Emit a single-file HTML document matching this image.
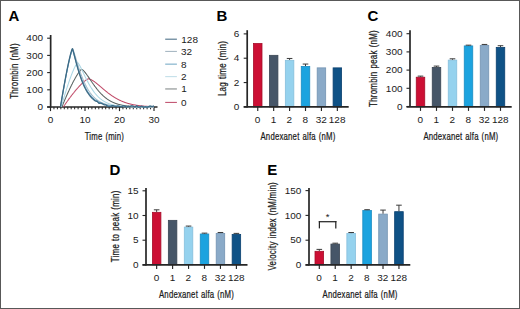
<!DOCTYPE html>
<html><head><meta charset="utf-8"><style>
html,body{margin:0;padding:0;background:#fff;}
#fig{position:relative;width:520px;height:309px;overflow:hidden;background:#fff;}
#fig svg{position:absolute;left:0;top:0;}
#frame{position:absolute;left:0;top:0;width:518px;height:307px;border:1px solid #585858;border-right-width:1px;border-bottom-width:1px;}
text{font-family:"Liberation Sans", sans-serif;}
</style></head><body>
<div id="fig">
<svg width="520" height="309" viewBox="0 0 520 309">
<text transform="translate(8.60,21.20)" font-size="15" text-anchor="start" font-weight="bold" fill="#000">A</text>
<line x1="50.65" y1="35.00" x2="50.65" y2="107.60" stroke="#262626" stroke-width="1.7"/>
<line x1="47.15" y1="107.00" x2="50.65" y2="107.00" stroke="#262626" stroke-width="1.1"/>
<text transform="translate(43.00,110.25) scale(1.05,1)" font-size="9.5" text-anchor="end" font-weight="normal" fill="#1a1a1a">0</text>
<line x1="47.15" y1="89.80" x2="50.65" y2="89.80" stroke="#262626" stroke-width="1.1"/>
<text transform="translate(43.00,93.05) scale(1.05,1)" font-size="9.5" text-anchor="end" font-weight="normal" fill="#1a1a1a">100</text>
<line x1="47.15" y1="72.60" x2="50.65" y2="72.60" stroke="#262626" stroke-width="1.1"/>
<text transform="translate(43.00,75.85) scale(1.05,1)" font-size="9.5" text-anchor="end" font-weight="normal" fill="#1a1a1a">200</text>
<line x1="47.15" y1="55.40" x2="50.65" y2="55.40" stroke="#262626" stroke-width="1.1"/>
<text transform="translate(43.00,58.65) scale(1.05,1)" font-size="9.5" text-anchor="end" font-weight="normal" fill="#1a1a1a">300</text>
<line x1="47.15" y1="38.20" x2="50.65" y2="38.20" stroke="#262626" stroke-width="1.1"/>
<text transform="translate(43.00,41.45) scale(1.05,1)" font-size="9.5" text-anchor="end" font-weight="normal" fill="#1a1a1a">400</text>
<text transform="translate(17.80,71.00) rotate(-90) scale(0.725,1)" font-size="11.0" text-anchor="middle" font-weight="normal" fill="#1a1a1a" stroke="#1a1a1a" stroke-width="0.25" letter-spacing="0.3" word-spacing="0.8">Thrombin (nM)</text>
<line x1="47.15" y1="107.00" x2="157.50" y2="107.00" stroke="#262626" stroke-width="1.7"/>
<line x1="50.50" y1="107.00" x2="50.50" y2="111.10" stroke="#262626" stroke-width="1.15"/>
<text transform="translate(50.50,123.00) scale(1.05,1)" font-size="9.5" text-anchor="middle" font-weight="normal" fill="#1a1a1a">0</text>
<line x1="53.95" y1="107.00" x2="53.95" y2="109.30" stroke="#262626" stroke-width="1.0"/>
<line x1="57.40" y1="107.00" x2="57.40" y2="109.30" stroke="#262626" stroke-width="1.0"/>
<line x1="60.85" y1="107.00" x2="60.85" y2="109.30" stroke="#262626" stroke-width="1.0"/>
<line x1="64.30" y1="107.00" x2="64.30" y2="109.30" stroke="#262626" stroke-width="1.0"/>
<line x1="67.75" y1="107.00" x2="67.75" y2="109.30" stroke="#262626" stroke-width="1.0"/>
<line x1="71.20" y1="107.00" x2="71.20" y2="109.30" stroke="#262626" stroke-width="1.0"/>
<line x1="74.65" y1="107.00" x2="74.65" y2="109.30" stroke="#262626" stroke-width="1.0"/>
<line x1="78.10" y1="107.00" x2="78.10" y2="109.30" stroke="#262626" stroke-width="1.0"/>
<line x1="81.55" y1="107.00" x2="81.55" y2="109.30" stroke="#262626" stroke-width="1.0"/>
<line x1="85.00" y1="107.00" x2="85.00" y2="111.10" stroke="#262626" stroke-width="1.15"/>
<text transform="translate(85.00,123.00) scale(1.05,1)" font-size="9.5" text-anchor="middle" font-weight="normal" fill="#1a1a1a">10</text>
<line x1="88.45" y1="107.00" x2="88.45" y2="109.30" stroke="#262626" stroke-width="1.0"/>
<line x1="91.90" y1="107.00" x2="91.90" y2="109.30" stroke="#262626" stroke-width="1.0"/>
<line x1="95.35" y1="107.00" x2="95.35" y2="109.30" stroke="#262626" stroke-width="1.0"/>
<line x1="98.80" y1="107.00" x2="98.80" y2="109.30" stroke="#262626" stroke-width="1.0"/>
<line x1="102.25" y1="107.00" x2="102.25" y2="109.30" stroke="#262626" stroke-width="1.0"/>
<line x1="105.70" y1="107.00" x2="105.70" y2="109.30" stroke="#262626" stroke-width="1.0"/>
<line x1="109.15" y1="107.00" x2="109.15" y2="109.30" stroke="#262626" stroke-width="1.0"/>
<line x1="112.60" y1="107.00" x2="112.60" y2="109.30" stroke="#262626" stroke-width="1.0"/>
<line x1="116.05" y1="107.00" x2="116.05" y2="109.30" stroke="#262626" stroke-width="1.0"/>
<line x1="119.50" y1="107.00" x2="119.50" y2="111.10" stroke="#262626" stroke-width="1.15"/>
<text transform="translate(119.50,123.00) scale(1.05,1)" font-size="9.5" text-anchor="middle" font-weight="normal" fill="#1a1a1a">20</text>
<line x1="122.95" y1="107.00" x2="122.95" y2="109.30" stroke="#262626" stroke-width="1.0"/>
<line x1="126.40" y1="107.00" x2="126.40" y2="109.30" stroke="#262626" stroke-width="1.0"/>
<line x1="129.85" y1="107.00" x2="129.85" y2="109.30" stroke="#262626" stroke-width="1.0"/>
<line x1="133.30" y1="107.00" x2="133.30" y2="109.30" stroke="#262626" stroke-width="1.0"/>
<line x1="136.75" y1="107.00" x2="136.75" y2="109.30" stroke="#262626" stroke-width="1.0"/>
<line x1="140.20" y1="107.00" x2="140.20" y2="109.30" stroke="#262626" stroke-width="1.0"/>
<line x1="143.65" y1="107.00" x2="143.65" y2="109.30" stroke="#262626" stroke-width="1.0"/>
<line x1="147.10" y1="107.00" x2="147.10" y2="109.30" stroke="#262626" stroke-width="1.0"/>
<line x1="150.55" y1="107.00" x2="150.55" y2="109.30" stroke="#262626" stroke-width="1.0"/>
<line x1="154.00" y1="107.00" x2="154.00" y2="111.10" stroke="#262626" stroke-width="1.15"/>
<text transform="translate(154.00,123.00) scale(1.05,1)" font-size="9.5" text-anchor="middle" font-weight="normal" fill="#1a1a1a">30</text>
<text transform="translate(104.40,139.90) scale(0.695,1)" font-size="11.2" text-anchor="middle" font-weight="normal" fill="#1a1a1a" stroke="#1a1a1a" stroke-width="0.25" letter-spacing="0.3" word-spacing="0.8">Time (min)</text>
<polyline points="63.30,107.00 63.47,106.74 63.64,106.49 63.82,106.24 63.99,105.98 64.16,105.73 64.33,105.48 64.51,105.23 64.68,104.98 64.85,104.72 65.02,104.47 65.20,104.23 65.37,103.98 65.54,103.73 65.71,103.48 65.89,103.23 66.06,102.99 66.23,102.74 66.40,102.50 66.58,102.25 66.75,102.01 66.92,101.76 67.09,101.52 67.27,101.28 67.44,101.04 67.61,100.80 67.78,100.56 67.96,100.32 68.13,100.08 68.30,99.84 68.47,99.60 68.65,99.37 68.82,99.13 68.99,98.89 69.16,98.66 69.34,98.43 69.51,98.19 69.68,97.96 69.85,97.73 70.03,97.50 70.20,97.26 70.37,97.03 70.54,96.81 70.72,96.58 70.89,96.35 71.06,96.12 71.23,95.89 71.41,95.67 71.58,95.44 71.75,95.22 71.92,95.00 72.10,94.77 72.27,94.55 72.44,94.33 72.61,94.11 72.79,93.89 72.96,93.67 73.13,93.45 73.30,93.23 73.48,93.02 73.65,92.80 73.82,92.59 73.99,92.37 74.17,92.16 74.34,91.95 74.51,91.73 74.68,91.52 74.86,91.31 75.03,91.10 75.20,90.89 75.37,90.69 75.55,90.48 75.72,90.27 75.89,90.07 76.06,89.87 76.24,89.66 76.41,89.46 76.58,89.26 76.75,89.06 76.93,88.86 77.10,88.66 77.27,88.46 77.44,88.27 77.62,88.07 77.79,87.88 77.96,87.68 78.13,87.49 78.31,87.30 78.48,87.11 78.65,86.92 78.82,86.73 79.00,86.54 79.17,86.36 79.34,86.17 79.51,85.99 79.69,85.81 79.86,85.62 80.03,85.44 80.20,85.26 80.38,85.09 80.55,84.91 80.72,84.73 80.89,84.56 81.07,84.39 81.24,84.21 81.41,84.04 81.58,83.87 81.76,83.71 81.93,83.54 82.10,83.37 82.27,83.21 82.45,83.05 82.62,82.89 82.79,82.73 82.96,82.57 83.14,82.42 83.31,82.26 83.48,82.11 83.65,81.96 83.83,81.81 84.00,81.66 84.17,81.51 84.34,81.37 84.52,81.23 84.69,81.09 84.86,80.95 85.03,80.81 85.21,80.68 85.38,80.55 85.55,80.42 85.72,80.29 85.90,80.17 86.07,80.05 86.24,79.93 86.41,79.81 86.59,79.70 86.76,79.59 86.93,79.49 87.10,79.38 87.28,79.29 87.45,79.19 87.62,79.10 87.79,79.02 87.97,78.94 88.14,78.88 88.31,78.82 88.48,78.79 88.66,78.81 88.83,78.84 89.00,78.87 89.17,78.91 89.35,78.96 89.52,79.01 89.69,79.06 89.86,79.12 90.04,79.19 90.21,79.25 90.38,79.33 90.55,79.40 90.73,79.48 90.90,79.56 91.07,79.64 91.24,79.73 91.42,79.82 91.59,79.91 91.76,80.01 91.93,80.10 92.11,80.20 92.28,80.31 92.45,80.41 92.62,80.51 92.80,80.62 92.97,80.73 93.14,80.84 93.31,80.96 93.49,81.07 93.66,81.19 93.83,81.31 94.00,81.43 94.18,81.55 94.35,81.67 94.52,81.80 94.69,81.92 94.87,82.05 95.04,82.18 95.21,82.31 95.38,82.44 95.56,82.57 95.73,82.70 95.90,82.84 96.07,82.97 96.25,83.11 96.42,83.24 96.59,83.38 96.76,83.52 96.94,83.66 97.11,83.80 97.28,83.94 97.45,84.08 97.63,84.22 97.80,84.36 97.97,84.50 98.14,84.65 98.32,84.79 98.49,84.93 98.66,85.08 98.83,85.22 99.01,85.37 99.18,85.51 99.35,85.66 99.52,85.81 99.70,85.95 99.87,86.10 100.04,86.25 100.21,86.39 100.39,86.54 100.56,86.69 100.73,86.83 100.90,86.98 101.08,87.13 101.25,87.28 101.42,87.42 101.59,87.57 101.77,87.72 101.94,87.87 102.11,88.01 102.28,88.16 102.46,88.31 102.63,88.45 102.80,88.60 102.97,88.75 103.15,88.89 103.32,89.04 103.49,89.18 103.66,89.33 103.84,89.48 104.01,89.62 104.18,89.76 104.35,89.91 104.53,90.05 104.70,90.20 104.87,90.34 105.04,90.48 105.22,90.62 105.39,90.77 105.56,90.91 105.73,91.05 105.91,91.19 106.08,91.33 106.25,91.47 106.42,91.61 106.60,91.75 106.77,91.88 106.94,92.02 107.11,92.16 107.29,92.29 107.46,92.43 107.63,92.56 107.80,92.70 107.98,92.83 108.15,92.97 108.32,93.10 108.49,93.23 108.67,93.36 108.84,93.49 109.01,93.62 109.18,93.75 109.36,93.88 109.53,94.01 109.70,94.14 109.87,94.26 110.05,94.39 110.22,94.51 110.39,94.64 110.56,94.76 110.74,94.89 110.91,95.01 111.08,95.13 111.25,95.25 111.43,95.37 111.60,95.49 111.77,95.61 111.94,95.73 112.12,95.85 112.29,95.96 112.46,96.08 112.63,96.19 112.81,96.31 112.98,96.42 113.15,96.53 113.32,96.65 113.50,96.76 113.67,96.87 113.84,96.98 114.01,97.09 114.19,97.19 114.36,97.30 114.53,97.41 114.70,97.51 114.88,97.62 115.05,97.72 115.22,97.82 115.39,97.93 115.57,98.03 115.74,98.13 115.91,98.23 116.08,98.33 116.26,98.43 116.43,98.53 116.60,98.62 116.77,98.72 116.95,98.81 117.12,98.91 117.29,99.00 117.46,99.10 117.64,99.19 117.81,99.28 117.98,99.37 118.15,99.46 118.33,99.55 118.50,99.64 118.67,99.73 118.84,99.81 119.02,99.90 119.19,99.98 119.36,100.07 119.53,100.15 119.71,100.24 119.88,100.32 120.05,100.40 120.22,100.48 120.40,100.56 120.57,100.64 120.74,100.72 120.91,100.80 121.09,100.87 121.26,100.95 121.43,101.02 121.60,101.10 121.78,101.17 121.95,101.25 122.12,101.32 122.29,101.39 122.47,101.46 122.64,101.53 122.81,101.60 122.98,101.67 123.16,101.74 123.33,101.81 123.50,101.87 123.67,101.94 123.85,102.01 124.02,102.07 124.19,102.14 124.36,102.20 124.54,102.26 124.71,102.32 124.88,102.39 125.05,102.45 125.23,102.51 125.40,102.57 125.57,102.63 125.74,102.68 125.92,102.74 126.09,102.80 126.26,102.86 126.43,102.91 126.61,102.97 126.78,103.02 126.95,103.08 127.12,103.13 127.30,103.18 127.47,103.23 127.64,103.29 127.81,103.34 127.99,103.39 128.16,103.44 128.33,103.49 128.50,103.54 128.68,103.58 128.85,103.63 129.02,103.68 129.19,103.73 129.37,103.77 129.54,103.82 129.71,103.86 129.88,103.91 130.06,103.95 130.23,103.99 130.40,104.04 130.57,104.08 130.75,104.12 130.92,104.16 131.09,104.20 131.26,104.24 131.44,104.28 131.61,104.32 131.78,104.36 131.95,104.40 132.13,104.44 132.30,104.47 132.47,104.51 132.64,104.55 132.82,104.58 132.99,104.62 133.16,104.65 133.33,104.69 133.51,104.72 133.68,104.76 133.85,104.79 134.02,104.82 134.20,104.86 134.37,104.89 134.54,104.92 134.71,104.95 134.89,104.98 135.06,105.01 135.23,105.04 135.40,105.07 135.58,105.10 135.75,105.13 135.92,105.16 136.09,105.19 136.27,105.21 136.44,105.24 136.61,105.27 136.78,105.30 136.96,105.32 137.13,105.35 137.30,105.37 137.47,105.40 137.65,105.42 137.82,105.45 137.99,105.47 138.16,105.50 138.34,105.52 138.51,105.54 138.68,105.57 138.85,105.59 139.03,105.61 139.20,105.63 139.37,105.65 139.54,105.68 139.72,105.70 139.89,105.72 140.06,105.74 140.23,105.76 140.41,105.78 140.58,105.80 140.75,105.82 140.92,105.84 141.10,105.85 141.27,105.87 141.44,105.89 141.61,105.91 141.79,105.93 141.96,105.94 142.13,105.96 142.30,105.98 142.48,106.00 142.65,106.01 142.82,106.03 142.99,106.04 143.17,106.06 143.34,106.08 143.51,106.09 143.68,106.11 143.86,106.12 144.03,106.13 144.20,106.15 144.37,106.16 144.55,106.18 144.72,106.19 144.89,106.20 145.06,106.22 145.24,106.23 145.41,106.24 145.58,106.26 145.75,106.27 145.93,106.28 146.10,106.29 146.27,106.31 146.44,106.32 146.62,106.33 146.79,106.34 146.96,106.35 147.13,106.36 147.31,106.37 147.48,106.38 147.65,106.40 147.82,106.41 148.00,106.42 148.17,106.43 148.34,106.44 148.51,106.45 148.69,106.46 148.86,106.46 149.03,106.47 149.20,106.48 149.38,106.49 149.55,106.50 149.72,106.51 149.89,106.52 150.07,106.53 150.24,106.54 150.41,106.54 150.58,106.55 150.76,106.56 150.93,106.57 151.10,106.58 151.27,106.58 151.45,106.59 151.62,106.60 151.79,106.60 151.96,106.61 152.14,106.62 152.31,106.63 152.48,106.63 152.65,106.64 152.83,106.65 153.00,106.65 153.17,106.66 153.34,106.66 153.52,106.67 153.69,106.68 153.86,106.68" fill="none" stroke="#c04a68" stroke-width="1.05" stroke-linejoin="round"/>
<polyline points="61.82,107.00 61.99,106.58 62.16,106.16 62.33,105.74 62.51,105.32 62.68,104.91 62.85,104.49 63.02,104.08 63.20,103.66 63.37,103.25 63.54,102.84 63.71,102.43 63.89,102.02 64.06,101.61 64.23,101.20 64.40,100.80 64.58,100.39 64.75,99.99 64.92,99.59 65.09,99.19 65.27,98.79 65.44,98.39 65.61,97.99 65.78,97.59 65.96,97.20 66.13,96.80 66.30,96.41 66.47,96.02 66.65,95.63 66.82,95.24 66.99,94.85 67.16,94.47 67.34,94.08 67.51,93.70 67.68,93.32 67.85,92.93 68.03,92.55 68.20,92.18 68.37,91.80 68.54,91.42 68.72,91.05 68.89,90.68 69.06,90.30 69.23,89.93 69.41,89.57 69.58,89.20 69.75,88.83 69.92,88.47 70.10,88.11 70.27,87.75 70.44,87.39 70.61,87.03 70.79,86.67 70.96,86.32 71.13,85.96 71.30,85.61 71.48,85.26 71.65,84.91 71.82,84.57 71.99,84.22 72.17,83.88 72.34,83.54 72.51,83.20 72.68,82.86 72.86,82.52 73.03,82.19 73.20,81.86 73.37,81.53 73.55,81.20 73.72,80.87 73.89,80.55 74.06,80.23 74.24,79.91 74.41,79.59 74.58,79.27 74.75,78.96 74.93,78.65 75.10,78.34 75.27,78.03 75.44,77.72 75.62,77.42 75.79,77.12 75.96,76.83 76.13,76.53 76.31,76.24 76.48,75.95 76.65,75.66 76.82,75.38 77.00,75.10 77.17,74.82 77.34,74.54 77.51,74.27 77.69,74.00 77.86,73.74 78.03,73.48 78.20,73.22 78.38,72.96 78.55,72.71 78.72,72.47 78.89,72.22 79.07,71.99 79.24,71.75 79.41,71.52 79.58,71.30 79.76,71.08 79.93,70.87 80.10,70.66 80.27,70.46 80.45,70.27 80.62,70.09 80.79,69.91 80.96,69.75 81.14,69.60 81.31,69.47 81.48,69.36 81.65,69.35 81.83,69.41 82.00,69.49 82.17,69.59 82.34,69.70 82.52,69.82 82.69,69.95 82.86,70.09 83.03,70.23 83.21,70.39 83.38,70.55 83.55,70.72 83.72,70.89 83.90,71.07 84.07,71.26 84.24,71.45 84.41,71.64 84.59,71.84 84.76,72.04 84.93,72.25 85.10,72.46 85.28,72.67 85.45,72.89 85.62,73.11 85.79,73.33 85.97,73.56 86.14,73.79 86.31,74.02 86.48,74.25 86.66,74.49 86.83,74.72 87.00,74.96 87.17,75.20 87.35,75.44 87.52,75.69 87.69,75.93 87.86,76.18 88.04,76.42 88.21,76.67 88.38,76.92 88.55,77.17 88.73,77.42 88.90,77.67 89.07,77.93 89.24,78.18 89.42,78.43 89.59,78.68 89.76,78.94 89.93,79.19 90.11,79.44 90.28,79.70 90.45,79.95 90.62,80.20 90.80,80.46 90.97,80.71 91.14,80.96 91.31,81.22 91.49,81.47 91.66,81.72 91.83,81.97 92.00,82.22 92.18,82.47 92.35,82.72 92.52,82.97 92.69,83.21 92.87,83.46 93.04,83.71 93.21,83.95 93.38,84.20 93.56,84.44 93.73,84.68 93.90,84.92 94.07,85.16 94.25,85.40 94.42,85.64 94.59,85.88 94.76,86.11 94.94,86.34 95.11,86.58 95.28,86.81 95.45,87.04 95.63,87.27 95.80,87.50 95.97,87.72 96.14,87.95 96.32,88.17 96.49,88.39 96.66,88.61 96.83,88.83 97.01,89.05 97.18,89.27 97.35,89.48 97.52,89.69 97.70,89.90 97.87,90.11 98.04,90.32 98.21,90.53 98.39,90.73 98.56,90.94 98.73,91.14 98.90,91.34 99.08,91.54 99.25,91.74 99.42,91.93 99.59,92.13 99.77,92.32 99.94,92.51 100.11,92.70 100.28,92.88 100.46,93.07 100.63,93.25 100.80,93.43 100.97,93.62 101.15,93.79 101.32,93.97 101.49,94.15 101.66,94.32 101.84,94.49 102.01,94.66 102.18,94.83 102.35,95.00 102.53,95.16 102.70,95.33 102.87,95.49 103.04,95.65 103.22,95.81 103.39,95.97 103.56,96.12 103.73,96.27 103.91,96.43 104.08,96.58 104.25,96.73 104.42,96.87 104.60,97.02 104.77,97.16 104.94,97.31 105.11,97.45 105.29,97.59 105.46,97.72 105.63,97.86 105.80,97.99 105.98,98.13 106.15,98.26 106.32,98.39 106.49,98.52 106.67,98.64 106.84,98.77 107.01,98.89 107.18,99.02 107.36,99.14 107.53,99.26 107.70,99.37 107.87,99.49 108.05,99.61 108.22,99.72 108.39,99.83 108.56,99.94 108.74,100.05 108.91,100.16 109.08,100.27 109.25,100.37 109.43,100.48 109.60,100.58 109.77,100.68 109.94,100.78 110.12,100.88 110.29,100.98 110.46,101.07 110.63,101.17 110.81,101.26 110.98,101.35 111.15,101.44 111.32,101.53 111.50,101.62 111.67,101.71 111.84,101.80 112.01,101.88 112.19,101.97 112.36,102.05 112.53,102.13 112.70,102.21 112.88,102.29 113.05,102.37 113.22,102.45 113.39,102.52 113.57,102.60 113.74,102.67 113.91,102.74 114.08,102.81 114.26,102.88 114.43,102.95 114.60,103.02 114.77,103.09 114.95,103.16 115.12,103.22 115.29,103.29 115.46,103.35 115.64,103.41 115.81,103.48 115.98,103.54 116.15,103.60 116.33,103.66 116.50,103.71 116.67,103.77 116.84,103.83 117.02,103.88 117.19,103.94 117.36,103.99 117.53,104.05 117.71,104.10 117.88,104.15 118.05,104.20 118.22,104.25 118.40,104.30 118.57,104.35 118.74,104.39 118.91,104.44 119.09,104.49 119.26,104.53 119.43,104.58 119.60,104.62 119.78,104.66 119.95,104.71 120.12,104.75 120.29,104.79 120.47,104.83 120.64,104.87 120.81,104.91 120.98,104.95 121.16,104.98 121.33,105.02 121.50,105.06 121.67,105.09 121.85,105.13 122.02,105.16 122.19,105.20 122.36,105.23 122.54,105.27 122.71,105.30 122.88,105.33 123.05,105.36 123.23,105.39 123.40,105.42 123.57,105.45 123.74,105.48 123.92,105.51 124.09,105.54 124.26,105.57 124.43,105.59 124.61,105.62 124.78,105.65 124.95,105.67 125.12,105.70 125.30,105.72 125.47,105.75 125.64,105.77 125.81,105.80 125.99,105.82 126.16,105.84 126.33,105.87 126.50,105.89 126.68,105.91 126.85,105.93 127.02,105.95 127.19,105.97 127.37,105.99 127.54,106.01 127.71,106.03 127.88,106.05 128.06,106.07 128.23,106.09 128.40,106.11 128.57,106.12 128.75,106.14 128.92,106.16 129.09,106.18 129.26,106.19 129.44,106.21 129.61,106.22 129.78,106.24 129.95,106.26 130.13,106.27 130.30,106.29 130.47,106.30 130.64,106.31 130.82,106.33 130.99,106.34 131.16,106.36 131.33,106.37 131.51,106.38 131.68,106.39 131.85,106.41 132.02,106.42 132.20,106.43 132.37,106.44 132.54,106.45 132.71,106.47 132.89,106.48 133.06,106.49 133.23,106.50 133.40,106.51 133.58,106.52 133.75,106.53 133.92,106.54 134.09,106.55 134.27,106.56 134.44,106.57 134.61,106.58 134.78,106.59 134.96,106.59 135.13,106.60 135.30,106.61 135.47,106.62 135.65,106.63 135.82,106.64 135.99,106.64 136.16,106.65 136.34,106.66 136.51,106.67 136.68,106.67 136.85,106.68 137.03,106.69 137.20,106.69 137.37,106.70 137.54,106.71 137.72,106.71 137.89,106.72 138.06,106.73 138.23,106.73 138.41,106.74 138.58,106.74 138.75,106.75 138.92,106.75 139.10,106.76 139.27,106.76 139.44,106.77 139.61,106.77 139.79,106.78 139.96,106.78 140.13,106.79 140.30,106.79 140.48,106.80 140.65,106.80 140.82,106.81 140.99,106.81 141.17,106.82 141.34,106.82 141.51,106.82 141.68,106.83 141.86,106.83 142.03,106.84 142.20,106.84 142.37,106.84 142.55,106.85 142.72,106.85 142.89,106.85 143.06,106.86 143.24,106.86 143.41,106.86 143.58,106.87 143.75,106.87 143.93,106.87 144.10,106.87 144.27,106.88 144.44,106.88 144.62,106.88 144.79,106.89 144.96,106.89 145.13,106.89 145.31,106.89 145.48,106.90 145.65,106.90 145.82,106.90 146.00,106.90 146.17,106.91 146.34,106.91 146.51,106.91 146.69,106.91 146.86,106.91 147.03,106.92 147.20,106.92 147.38,106.92 147.55,106.92 147.72,106.92 147.89,106.92 148.07,106.93 148.24,106.93 148.41,106.93 148.58,106.93 148.76,106.93 148.93,106.93 149.10,106.94 149.27,106.94 149.45,106.94 149.62,106.94 149.79,106.94 149.96,106.94 150.14,106.94 150.31,106.95 150.48,106.95 150.65,106.95 150.83,106.95 151.00,106.95 151.17,106.95 151.34,106.95 151.52,106.95 151.69,106.96 151.86,106.96 152.03,106.96 152.21,106.96 152.38,106.96 152.55,106.96 152.72,106.96 152.90,106.96 153.07,106.96 153.24,106.96 153.41,106.97 153.59,106.97 153.76,106.97 153.93,106.97" fill="none" stroke="#56605f" stroke-width="1.05" stroke-linejoin="round"/>
<polyline points="61.20,107.00 61.37,106.39 61.54,105.79 61.71,105.19 61.88,104.59 62.06,103.99 62.23,103.39 62.40,102.80 62.57,102.20 62.75,101.61 62.92,101.03 63.09,100.44 63.26,99.86 63.44,99.27 63.61,98.69 63.78,98.12 63.95,97.54 64.13,96.97 64.30,96.40 64.47,95.83 64.64,95.26 64.82,94.69 64.99,94.13 65.16,93.57 65.33,93.01 65.51,92.46 65.68,91.91 65.85,91.36 66.02,90.81 66.20,90.26 66.37,89.72 66.54,89.18 66.71,88.64 66.89,88.11 67.06,87.57 67.23,87.04 67.40,86.51 67.58,85.99 67.75,85.47 67.92,84.95 68.09,84.43 68.27,83.92 68.44,83.40 68.61,82.90 68.78,82.39 68.96,81.89 69.13,81.39 69.30,80.89 69.47,80.40 69.65,79.91 69.82,79.42 69.99,78.94 70.16,78.46 70.34,77.98 70.51,77.51 70.68,77.04 70.85,76.57 71.03,76.11 71.20,75.65 71.37,75.19 71.54,74.74 71.72,74.29 71.89,73.85 72.06,73.41 72.23,72.97 72.41,72.54 72.58,72.11 72.75,71.69 72.92,71.27 73.10,70.86 73.27,70.45 73.44,70.04 73.61,69.64 73.79,69.25 73.96,68.86 74.13,68.48 74.30,68.10 74.48,67.73 74.65,67.36 74.82,67.00 74.99,66.65 75.17,66.31 75.34,65.97 75.51,65.64 75.68,65.32 75.86,65.00 76.03,64.70 76.20,64.40 76.37,64.12 76.55,63.85 76.72,63.59 76.89,63.35 77.06,63.12 77.24,62.92 77.41,62.74 77.58,62.62 77.75,62.73 77.93,62.88 78.10,63.07 78.27,63.28 78.44,63.51 78.62,63.76 78.79,64.01 78.96,64.28 79.13,64.56 79.31,64.85 79.48,65.15 79.65,65.45 79.82,65.76 80.00,66.08 80.17,66.40 80.34,66.73 80.51,67.06 80.69,67.40 80.86,67.74 81.03,68.08 81.20,68.43 81.38,68.78 81.55,69.13 81.72,69.48 81.89,69.84 82.07,70.19 82.24,70.55 82.41,70.91 82.59,71.27 82.76,71.63 82.93,71.99 83.10,72.36 83.28,72.72 83.45,73.08 83.62,73.44 83.79,73.80 83.97,74.16 84.14,74.53 84.31,74.89 84.48,75.24 84.66,75.60 84.83,75.96 85.00,76.32 85.17,76.67 85.35,77.02 85.52,77.38 85.69,77.73 85.86,78.08 86.04,78.42 86.21,78.77 86.38,79.11 86.55,79.45 86.73,79.79 86.90,80.13 87.07,80.47 87.24,80.80 87.42,81.13 87.59,81.46 87.76,81.79 87.93,82.12 88.11,82.44 88.28,82.76 88.45,83.08 88.62,83.39 88.80,83.71 88.97,84.02 89.14,84.32 89.31,84.63 89.49,84.93 89.66,85.23 89.83,85.53 90.00,85.83 90.18,86.12 90.35,86.41 90.52,86.69 90.69,86.98 90.87,87.26 91.04,87.54 91.21,87.82 91.38,88.09 91.56,88.36 91.73,88.63 91.90,88.89 92.07,89.16 92.25,89.42 92.42,89.67 92.59,89.93 92.76,90.18 92.94,90.43 93.11,90.67 93.28,90.92 93.45,91.16 93.63,91.40 93.80,91.63 93.97,91.87 94.14,92.10 94.32,92.32 94.49,92.55 94.66,92.77 94.83,92.99 95.01,93.21 95.18,93.42 95.35,93.63 95.52,93.84 95.70,94.05 95.87,94.25 96.04,94.45 96.21,94.65 96.39,94.85 96.56,95.04 96.73,95.23 96.90,95.42 97.08,95.61 97.25,95.79 97.42,95.97 97.59,96.15 97.77,96.33 97.94,96.50 98.11,96.67 98.28,96.84 98.46,97.01 98.63,97.18 98.80,97.34 98.97,97.50 99.15,97.66 99.32,97.81 99.49,97.97 99.66,98.12 99.84,98.27 100.01,98.42 100.18,98.56 100.35,98.71 100.53,98.85 100.70,98.99 100.87,99.12 101.04,99.26 101.22,99.39 101.39,99.52 101.56,99.65 101.73,99.78 101.91,99.90 102.08,100.03 102.25,100.15 102.42,100.27 102.60,100.39 102.77,100.50 102.94,100.62 103.11,100.73 103.29,100.84 103.46,100.95 103.63,101.06 103.80,101.17 103.98,101.27 104.15,101.37 104.32,101.47 104.49,101.57 104.67,101.67 104.84,101.77 105.01,101.86 105.18,101.96 105.36,102.05 105.53,102.14 105.70,102.23 105.87,102.31 106.05,102.40 106.22,102.48 106.39,102.57 106.56,102.65 106.74,102.73 106.91,102.81 107.08,102.89 107.25,102.96 107.43,103.04 107.60,103.11 107.77,103.19 107.94,103.26 108.12,103.33 108.29,103.40 108.46,103.47 108.63,103.53 108.81,103.60 108.98,103.66 109.15,103.73 109.32,103.79 109.50,103.85 109.67,103.91 109.84,103.97 110.01,104.03 110.19,104.08 110.36,104.14 110.53,104.20 110.70,104.25 110.88,104.30 111.05,104.36 111.22,104.41 111.39,104.46 111.57,104.51 111.74,104.56 111.91,104.60 112.08,104.65 112.26,104.70 112.43,104.74 112.60,104.79 112.77,104.83 112.95,104.87 113.12,104.92 113.29,104.96 113.46,105.00 113.64,105.04 113.81,105.08 113.98,105.12 114.15,105.15 114.33,105.19 114.50,105.23 114.67,105.26 114.84,105.30 115.02,105.33 115.19,105.37 115.36,105.40 115.53,105.43 115.71,105.46 115.88,105.49 116.05,105.52 116.22,105.55 116.40,105.58 116.57,105.61 116.74,105.64 116.91,105.67 117.09,105.70 117.26,105.72 117.43,105.75 117.60,105.78 117.78,105.80 117.95,105.83 118.12,105.85 118.29,105.87 118.47,105.90 118.64,105.92 118.81,105.94 118.98,105.97 119.16,105.99 119.33,106.01 119.50,106.03 119.67,106.05 119.85,106.07 120.02,106.09 120.19,106.11 120.36,106.13 120.54,106.15 120.71,106.16 120.88,106.18 121.05,106.20 121.23,106.22 121.40,106.23 121.57,106.25 121.74,106.27 121.92,106.28 122.09,106.30 122.26,106.31 122.43,106.33 122.61,106.34 122.78,106.36 122.95,106.37 123.12,106.38 123.30,106.40 123.47,106.41 123.64,106.42 123.81,106.43 123.99,106.45 124.16,106.46 124.33,106.47 124.50,106.48 124.68,106.49 124.85,106.50 125.02,106.52 125.19,106.53 125.37,106.54 125.54,106.55 125.71,106.56 125.88,106.57 126.06,106.58 126.23,106.59 126.40,106.59 126.57,106.60 126.75,106.61 126.92,106.62 127.09,106.63 127.26,106.64 127.44,106.65 127.61,106.65 127.78,106.66 127.95,106.67 128.13,106.68 128.30,106.68 128.47,106.69 128.64,106.70 128.82,106.70 128.99,106.71 129.16,106.72 129.33,106.72 129.51,106.73 129.68,106.74 129.85,106.74 130.02,106.75 130.20,106.75 130.37,106.76 130.54,106.77 130.71,106.77 130.89,106.78 131.06,106.78 131.23,106.79 131.40,106.79 131.58,106.80 131.75,106.80 131.92,106.80 132.09,106.81 132.27,106.81 132.44,106.82 132.61,106.82 132.78,106.83 132.96,106.83 133.13,106.83 133.30,106.84 133.47,106.84 133.65,106.85 133.82,106.85 133.99,106.85 134.16,106.86 134.34,106.86 134.51,106.86 134.68,106.87 134.85,106.87 135.03,106.87 135.20,106.88 135.37,106.88 135.54,106.88 135.72,106.88 135.89,106.89 136.06,106.89 136.23,106.89 136.41,106.89 136.58,106.90 136.75,106.90 136.92,106.90 137.10,106.90 137.27,106.91 137.44,106.91 137.61,106.91 137.79,106.91 137.96,106.91 138.13,106.92 138.30,106.92 138.48,106.92 138.65,106.92 138.82,106.92 138.99,106.93 139.17,106.93 139.34,106.93 139.51,106.93 139.68,106.93 139.86,106.93 140.03,106.94 140.20,106.94 140.37,106.94 140.55,106.94 140.72,106.94 140.89,106.94 141.06,106.95 141.24,106.95 141.41,106.95 141.58,106.95 141.75,106.95 141.93,106.95 142.10,106.95 142.27,106.95 142.44,106.95 142.62,106.96 142.79,106.96 142.96,106.96 143.13,106.96 143.31,106.96 143.48,106.96 143.65,106.96 143.82,106.96 144.00,106.96 144.17,106.96 144.34,106.97 144.51,106.97 144.69,106.97 144.86,106.97 145.03,106.97 145.20,106.97 145.38,106.97 145.55,106.97 145.72,106.97 145.89,106.97 146.07,106.97 146.24,106.97 146.41,106.97 146.58,106.98 146.76,106.98 146.93,106.98 147.10,106.98 147.27,106.98 147.45,106.98 147.62,106.98 147.79,106.98 147.96,106.98 148.14,106.98 148.31,106.98 148.48,106.98 148.65,106.98 148.83,106.98 149.00,106.98 149.17,106.98 149.34,106.98 149.52,106.98 149.69,106.98 149.86,106.98 150.03,106.99 150.21,106.99 150.38,106.99 150.55,106.99 150.72,106.99 150.90,106.99 151.07,106.99 151.24,106.99 151.41,106.99 151.59,106.99 151.76,106.99 151.93,106.99 152.10,106.99 152.28,106.99 152.45,106.99 152.62,106.99 152.79,106.99 152.97,106.99 153.14,106.99 153.31,106.99 153.48,106.99 153.66,106.99 153.83,106.99 154.00,106.99" fill="none" stroke="#aad6e4" stroke-width="1.05" stroke-linejoin="round"/>
<polyline points="60.68,107.00 60.85,105.92 61.02,104.85 61.20,103.78 61.37,102.72 61.54,101.66 61.71,100.61 61.88,99.56 62.06,98.51 62.23,97.48 62.40,96.44 62.57,95.41 62.75,94.39 62.92,93.37 63.09,92.36 63.26,91.35 63.44,90.35 63.61,89.36 63.78,88.37 63.95,87.38 64.13,86.40 64.30,85.43 64.47,84.46 64.64,83.50 64.82,82.55 64.99,81.60 65.16,80.66 65.33,79.72 65.51,78.79 65.68,77.87 65.85,76.95 66.02,76.04 66.20,75.14 66.37,74.24 66.54,73.36 66.71,72.47 66.89,71.60 67.06,70.74 67.23,69.88 67.40,69.03 67.58,68.19 67.75,67.35 67.92,66.53 68.09,65.71 68.27,64.91 68.44,64.11 68.61,63.32 68.78,62.54 68.96,61.78 69.13,61.02 69.30,60.27 69.47,59.53 69.65,58.81 69.82,58.10 69.99,57.40 70.16,56.71 70.34,56.04 70.51,55.38 70.68,54.74 70.85,54.11 71.03,53.50 71.20,52.90 71.37,52.33 71.54,51.78 71.72,51.25 71.89,50.75 72.06,50.27 72.23,49.83 72.41,49.44 72.58,49.10 72.75,48.86 72.92,49.18 73.10,49.60 73.27,50.05 73.44,50.54 73.61,51.04 73.79,51.56 73.96,52.09 74.13,52.64 74.30,53.19 74.48,53.75 74.65,54.31 74.82,54.88 74.99,55.45 75.17,56.02 75.34,56.59 75.51,57.17 75.68,57.75 75.86,58.32 76.03,58.90 76.20,59.47 76.37,60.05 76.55,60.62 76.72,61.19 76.89,61.76 77.06,62.32 77.24,62.89 77.41,63.45 77.58,64.01 77.75,64.56 77.93,65.11 78.10,65.66 78.27,66.20 78.44,66.74 78.62,67.28 78.79,67.81 78.96,68.34 79.13,68.86 79.31,69.38 79.48,69.90 79.65,70.41 79.82,70.91 80.00,71.41 80.17,71.91 80.34,72.40 80.51,72.89 80.69,73.37 80.86,73.85 81.03,74.32 81.20,74.79 81.38,75.25 81.55,75.71 81.72,76.17 81.89,76.62 82.07,77.06 82.24,77.50 82.41,77.93 82.59,78.36 82.76,78.79 82.93,79.21 83.10,79.62 83.28,80.03 83.45,80.44 83.62,80.84 83.79,81.23 83.97,81.62 84.14,82.01 84.31,82.39 84.48,82.77 84.66,83.14 84.83,83.51 85.00,83.87 85.17,84.23 85.35,84.58 85.52,84.93 85.69,85.27 85.86,85.61 86.04,85.95 86.21,86.28 86.38,86.61 86.55,86.93 86.73,87.25 86.90,87.56 87.07,87.87 87.24,88.18 87.42,88.48 87.59,88.77 87.76,89.07 87.93,89.36 88.11,89.64 88.28,89.92 88.45,90.20 88.62,90.47 88.80,90.74 88.97,91.01 89.14,91.27 89.31,91.53 89.49,91.78 89.66,92.03 89.83,92.28 90.00,92.52 90.18,92.76 90.35,93.00 90.52,93.23 90.69,93.46 90.87,93.68 91.04,93.91 91.21,94.13 91.38,94.34 91.56,94.56 91.73,94.76 91.90,94.97 92.07,95.17 92.25,95.37 92.42,95.57 92.59,95.77 92.76,95.96 92.94,96.15 93.11,96.33 93.28,96.51 93.45,96.69 93.63,96.87 93.80,97.04 93.97,97.22 94.14,97.38 94.32,97.55 94.49,97.71 94.66,97.88 94.83,98.03 95.01,98.19 95.18,98.34 95.35,98.49 95.52,98.64 95.70,98.79 95.87,98.93 96.04,99.07 96.21,99.21 96.39,99.35 96.56,99.48 96.73,99.62 96.90,99.75 97.08,99.88 97.25,100.00 97.42,100.13 97.59,100.25 97.77,100.37 97.94,100.49 98.11,100.60 98.28,100.72 98.46,100.83 98.63,100.94 98.80,101.05 98.97,101.16 99.15,101.26 99.32,101.36 99.49,101.47 99.66,101.57 99.84,101.66 100.01,101.76 100.18,101.86 100.35,101.95 100.53,102.04 100.70,102.13 100.87,102.22 101.04,102.31 101.22,102.39 101.39,102.48 101.56,102.56 101.73,102.64 101.91,102.72 102.08,102.80 102.25,102.88 102.42,102.95 102.60,103.03 102.77,103.10 102.94,103.17 103.11,103.24 103.29,103.31 103.46,103.38 103.63,103.45 103.80,103.51 103.98,103.58 104.15,103.64 104.32,103.71 104.49,103.77 104.67,103.83 104.84,103.89 105.01,103.95 105.18,104.00 105.36,104.06 105.53,104.11 105.70,104.17 105.87,104.22 106.05,104.27 106.22,104.32 106.39,104.38 106.56,104.43 106.74,104.47 106.91,104.52 107.08,104.57 107.25,104.61 107.43,104.66 107.60,104.70 107.77,104.75 107.94,104.79 108.12,104.83 108.29,104.87 108.46,104.92 108.63,104.95 108.81,104.99 108.98,105.03 109.15,105.07 109.32,105.11 109.50,105.14 109.67,105.18 109.84,105.21 110.01,105.25 110.19,105.28 110.36,105.32 110.53,105.35 110.70,105.38 110.88,105.41 111.05,105.44 111.22,105.47 111.39,105.50 111.57,105.53 111.74,105.56 111.91,105.59 112.08,105.62 112.26,105.64 112.43,105.67 112.60,105.69 112.77,105.72 112.95,105.75 113.12,105.77 113.29,105.79 113.46,105.82 113.64,105.84 113.81,105.86 113.98,105.89 114.15,105.91 114.33,105.93 114.50,105.95 114.67,105.97 114.84,105.99 115.02,106.01 115.19,106.03 115.36,106.05 115.53,106.07 115.71,106.09 115.88,106.11 116.05,106.12 116.22,106.14 116.40,106.16 116.57,106.17 116.74,106.19 116.91,106.21 117.09,106.22 117.26,106.24 117.43,106.25 117.60,106.27 117.78,106.28 117.95,106.30 118.12,106.31 118.29,106.33 118.47,106.34 118.64,106.35 118.81,106.36 118.98,106.38 119.16,106.39 119.33,106.40 119.50,106.41 119.67,106.43 119.85,106.44 120.02,106.45 120.19,106.46 120.36,106.47 120.54,106.48 120.71,106.49 120.88,106.50 121.05,106.51 121.23,106.52 121.40,106.53 121.57,106.54 121.74,106.55 121.92,106.56 122.09,106.57 122.26,106.58 122.43,106.59 122.61,106.60 122.78,106.60 122.95,106.61 123.12,106.62 123.30,106.63 123.47,106.63 123.64,106.64 123.81,106.65 123.99,106.66 124.16,106.66 124.33,106.67 124.50,106.68 124.68,106.68 124.85,106.69 125.02,106.70 125.19,106.70 125.37,106.71 125.54,106.72 125.71,106.72 125.88,106.73 126.06,106.73 126.23,106.74 126.40,106.74 126.57,106.75 126.75,106.75 126.92,106.76 127.09,106.76 127.26,106.77 127.44,106.77 127.61,106.78 127.78,106.78 127.95,106.79 128.13,106.79 128.30,106.80 128.47,106.80 128.64,106.80 128.82,106.81 128.99,106.81 129.16,106.82 129.33,106.82 129.51,106.82 129.68,106.83 129.85,106.83 130.02,106.84 130.20,106.84 130.37,106.84 130.54,106.85 130.71,106.85 130.89,106.85 131.06,106.86 131.23,106.86 131.40,106.86 131.58,106.86 131.75,106.87 131.92,106.87 132.09,106.87 132.27,106.88 132.44,106.88 132.61,106.88 132.78,106.88 132.96,106.89 133.13,106.89 133.30,106.89 133.47,106.89 133.65,106.89 133.82,106.90 133.99,106.90 134.16,106.90 134.34,106.90 134.51,106.91 134.68,106.91 134.85,106.91 135.03,106.91 135.20,106.91 135.37,106.92 135.54,106.92 135.72,106.92 135.89,106.92 136.06,106.92 136.23,106.92 136.41,106.93 136.58,106.93 136.75,106.93 136.92,106.93 137.10,106.93 137.27,106.93 137.44,106.93 137.61,106.94 137.79,106.94 137.96,106.94 138.13,106.94 138.30,106.94 138.48,106.94 138.65,106.94 138.82,106.95 138.99,106.95 139.17,106.95 139.34,106.95 139.51,106.95 139.68,106.95 139.86,106.95 140.03,106.95 140.20,106.95 140.37,106.95 140.55,106.96 140.72,106.96 140.89,106.96 141.06,106.96 141.24,106.96 141.41,106.96 141.58,106.96 141.75,106.96 141.93,106.96 142.10,106.96 142.27,106.96 142.44,106.97 142.62,106.97 142.79,106.97 142.96,106.97 143.13,106.97 143.31,106.97 143.48,106.97 143.65,106.97 143.82,106.97 144.00,106.97 144.17,106.97 144.34,106.97 144.51,106.97 144.69,106.97 144.86,106.97 145.03,106.98 145.20,106.98 145.38,106.98 145.55,106.98 145.72,106.98 145.89,106.98 146.07,106.98 146.24,106.98 146.41,106.98 146.58,106.98 146.76,106.98 146.93,106.98 147.10,106.98 147.27,106.98 147.45,106.98 147.62,106.98 147.79,106.98 147.96,106.98 148.14,106.98 148.31,106.98 148.48,106.98 148.65,106.98 148.83,106.98 149.00,106.99 149.17,106.99 149.34,106.99 149.52,106.99 149.69,106.99 149.86,106.99 150.03,106.99 150.21,106.99 150.38,106.99 150.55,106.99 150.72,106.99 150.90,106.99 151.07,106.99 151.24,106.99 151.41,106.99 151.59,106.99 151.76,106.99 151.93,106.99 152.10,106.99 152.28,106.99 152.45,106.99 152.62,106.99 152.79,106.99 152.97,106.99 153.14,106.99 153.31,106.99 153.48,106.99 153.66,106.99 153.83,106.99 154.00,106.99" fill="none" stroke="#a3b8c6" stroke-width="1.05" stroke-linejoin="round"/>
<polyline points="60.51,107.00 60.68,105.96 60.85,104.92 61.02,103.89 61.20,102.86 61.37,101.83 61.54,100.81 61.71,99.79 61.88,98.77 62.06,97.76 62.23,96.76 62.40,95.76 62.57,94.76 62.75,93.77 62.92,92.78 63.09,91.79 63.26,90.81 63.44,89.84 63.61,88.87 63.78,87.90 63.95,86.94 64.13,85.99 64.30,85.04 64.47,84.09 64.64,83.15 64.82,82.21 64.99,81.28 65.16,80.36 65.33,79.44 65.51,78.53 65.68,77.62 65.85,76.72 66.02,75.82 66.20,74.93 66.37,74.05 66.54,73.17 66.71,72.30 66.89,71.43 67.06,70.57 67.23,69.72 67.40,68.88 67.58,68.04 67.75,67.21 67.92,66.39 68.09,65.58 68.27,64.77 68.44,63.97 68.61,63.19 68.78,62.41 68.96,61.63 69.13,60.87 69.30,60.12 69.47,59.38 69.65,58.65 69.82,57.93 69.99,57.23 70.16,56.53 70.34,55.85 70.51,55.18 70.68,54.53 70.85,53.90 71.03,53.28 71.20,52.68 71.37,52.10 71.54,51.55 71.72,51.02 71.89,50.52 72.06,50.07 72.23,49.67 72.41,49.38 72.58,49.78 72.75,50.27 72.92,50.81 73.10,51.37 73.27,51.95 73.44,52.54 73.61,53.15 73.79,53.76 73.96,54.38 74.13,55.00 74.30,55.63 74.48,56.25 74.65,56.88 74.82,57.51 74.99,58.14 75.17,58.77 75.34,59.39 75.51,60.02 75.68,60.64 75.86,61.26 76.03,61.88 76.20,62.49 76.37,63.10 76.55,63.70 76.72,64.31 76.89,64.90 77.06,65.49 77.24,66.08 77.41,66.66 77.58,67.24 77.75,67.82 77.93,68.38 78.10,68.95 78.27,69.50 78.44,70.05 78.62,70.60 78.79,71.14 78.96,71.68 79.13,72.21 79.31,72.73 79.48,73.25 79.65,73.76 79.82,74.27 80.00,74.77 80.17,75.26 80.34,75.75 80.51,76.23 80.69,76.71 80.86,77.18 81.03,77.65 81.20,78.11 81.38,78.57 81.55,79.01 81.72,79.46 81.89,79.90 82.07,80.33 82.24,80.75 82.41,81.17 82.59,81.59 82.76,82.00 82.93,82.40 83.10,82.80 83.28,83.20 83.45,83.58 83.62,83.97 83.79,84.34 83.97,84.72 84.14,85.08 84.31,85.45 84.48,85.80 84.66,86.15 84.83,86.50 85.00,86.84 85.17,87.18 85.35,87.51 85.52,87.84 85.69,88.16 85.86,88.48 86.04,88.79 86.21,89.10 86.38,89.40 86.55,89.70 86.73,90.00 86.90,90.29 87.07,90.57 87.24,90.86 87.42,91.13 87.59,91.41 87.76,91.68 87.93,91.94 88.11,92.20 88.28,92.46 88.45,92.71 88.62,92.96 88.80,93.20 88.97,93.44 89.14,93.68 89.31,93.92 89.49,94.14 89.66,94.37 89.83,94.59 90.00,94.81 90.18,95.03 90.35,95.24 90.52,95.45 90.69,95.65 90.87,95.86 91.04,96.05 91.21,96.25 91.38,96.44 91.56,96.63 91.73,96.82 91.90,97.00 92.07,97.18 92.25,97.36 92.42,97.53 92.59,97.70 92.76,97.87 92.94,98.03 93.11,98.20 93.28,98.36 93.45,98.51 93.63,98.67 93.80,98.83 93.97,98.99 94.14,99.14 94.32,99.29 94.49,99.44 94.66,99.58 94.83,99.71 95.01,99.84 95.18,99.97 95.35,100.09 95.52,100.19 95.70,100.28 95.87,100.36 96.04,100.44 96.21,100.51 96.39,100.57 96.56,100.62 96.73,100.66 96.90,100.70 97.08,100.73 97.25,100.88 97.42,101.04 97.59,101.21 97.77,101.38 97.94,101.55 98.11,101.73 98.28,101.92 98.46,102.11 98.63,102.30 98.80,102.51 98.97,102.53 99.15,102.55 99.32,102.57 99.49,102.59 99.66,102.61 99.84,102.62 100.01,102.64 100.18,102.65 100.35,102.66 100.53,102.67 100.70,102.74 100.87,102.80 101.04,102.86 101.22,102.93 101.39,102.99 101.56,103.05 101.73,103.10 101.91,103.16 102.08,103.21 102.25,103.27 102.42,103.37 102.60,103.48 102.77,103.58 102.94,103.69 103.11,103.79 103.29,103.89 103.46,103.99 103.63,104.09 103.80,104.19 103.98,104.28 104.15,104.31 104.32,104.33 104.49,104.35 104.67,104.37 104.84,104.39 105.01,104.41 105.18,104.42 105.36,104.44 105.53,104.45 105.70,104.47 105.87,104.59 106.05,104.71 106.22,104.84 106.39,104.96 106.56,105.08 106.74,105.19 106.91,105.31 107.08,105.43 107.25,105.55 107.43,105.66 107.60,105.70 107.77,105.73 107.94,105.77 108.12,105.80 108.29,105.84 108.46,105.87 108.63,105.90 108.81,105.93 108.98,105.96 109.15,105.99 109.32,106.00 109.50,106.00 109.67,106.01 109.84,106.01 110.01,106.01 110.19,106.02 110.36,106.02 110.53,106.02 110.70,106.02 110.88,106.02 111.05,105.97 111.22,105.91 111.39,105.86 111.57,105.80 111.74,105.74 111.91,105.69 112.08,105.63 112.26,105.57 112.43,105.51 112.60,105.46 112.77,105.52 112.95,105.58 113.12,105.64 113.29,105.70 113.46,105.76 113.64,105.82 113.81,105.88 113.98,105.94 114.15,106.00 114.33,106.05 114.50,106.09 114.67,106.12 114.84,106.16 115.02,106.19 115.19,106.23 115.36,106.26 115.53,106.29 115.71,106.32 115.88,106.36 116.05,106.39 116.22,106.36 116.40,106.33 116.57,106.29 116.74,106.26 116.91,106.23 117.09,106.20 117.26,106.16 117.43,106.13 117.60,106.10 117.78,106.06 117.95,106.09 118.12,106.13 118.29,106.16 118.47,106.19 118.64,106.22 118.81,106.25 118.98,106.29 119.16,106.32 119.33,106.35 119.50,106.38 119.67,106.41 119.85,106.45 120.02,106.48 120.19,106.52 120.36,106.55 120.54,106.58 120.71,106.61 120.88,106.65 121.05,106.68 121.23,106.71 121.40,106.64 121.57,106.56 121.74,106.49 121.92,106.41 122.09,106.34 122.26,106.26 122.43,106.19 122.61,106.11 122.78,106.04 122.95,105.96 123.12,105.98 123.30,106.01 123.47,106.03 123.64,106.05 123.81,106.07 123.99,106.09 124.16,106.11 124.33,106.13 124.50,106.15 124.68,106.17 124.85,106.25 125.02,106.33 125.19,106.41 125.37,106.49 125.54,106.57 125.71,106.65 125.88,106.73 126.06,106.81 126.23,106.89 126.40,106.97 126.57,106.92 126.75,106.87 126.92,106.81 127.09,106.76 127.26,106.71 127.44,106.66 127.61,106.61 127.78,106.56 127.95,106.51 128.13,106.46 128.30,106.47 128.47,106.48 128.64,106.49 128.82,106.50 128.99,106.51 129.16,106.52 129.33,106.53 129.51,106.54 129.68,106.56 129.85,106.57 130.02,106.51 130.20,106.46 130.37,106.40 130.54,106.35 130.71,106.29 130.89,106.23 131.06,106.18 131.23,106.12 131.40,106.07 131.58,106.01 131.75,106.04 131.92,106.06 132.09,106.09 132.27,106.12 132.44,106.14 132.61,106.17 132.78,106.19 132.96,106.22 133.13,106.24 133.30,106.27 133.47,106.35 133.65,106.42 133.82,106.49 133.99,106.57 134.16,106.64 134.34,106.72 134.51,106.79 134.68,106.87 134.85,106.94 135.03,107.00 135.20,106.90 135.37,106.79 135.54,106.68 135.72,106.56 135.89,106.45 136.06,106.34 136.23,106.22 136.41,106.11 136.58,106.00 136.75,105.88 136.92,106.03 137.10,106.17 137.27,106.31 137.44,106.46 137.61,106.60 137.79,106.74 137.96,106.89 138.13,107.00 138.30,107.00 138.48,107.00 138.65,107.00 138.82,107.00 138.99,107.00 139.17,107.00 139.34,107.00 139.51,107.00 139.68,106.98 139.86,106.93 140.03,106.88 140.20,106.83 140.37,106.77 140.55,106.72 140.72,106.66 140.89,106.61 141.06,106.55 141.24,106.50 141.41,106.44 141.58,106.39 141.75,106.33 141.93,106.28 142.10,106.38 142.27,106.48 142.44,106.58 142.62,106.68 142.79,106.78 142.96,106.88 143.13,106.98 143.31,107.00 143.48,107.00 143.65,107.00 143.82,107.00 144.00,107.00 144.17,107.00 144.34,107.00 144.51,107.00 144.69,106.95 144.86,106.89 145.03,106.84 145.20,106.78 145.38,106.73 145.55,106.80 145.72,106.88 145.89,106.95 146.07,107.00 146.24,107.00 146.41,107.00 146.58,107.00 146.76,107.00 146.93,107.00 147.10,107.00 147.27,107.00 147.45,107.00 147.62,107.00 147.79,107.00 147.96,106.96 148.14,106.85 148.31,106.75 148.48,106.64 148.65,106.54 148.83,106.44 149.00,106.42 149.17,106.41 149.34,106.39 149.52,106.37 149.69,106.36 149.86,106.34 150.03,106.33 150.21,106.31 150.38,106.30 150.55,106.28 150.72,106.31 150.90,106.34 151.07,106.38 151.24,106.41 151.41,106.44 151.59,106.47 151.76,106.50 151.93,106.53 152.10,106.57 152.28,106.60 152.45,106.55 152.62,106.50 152.79,106.45 152.97,106.40 153.14,106.35 153.31,106.30 153.48,106.25 153.66,106.20 153.83,106.15 154.00,106.10" fill="none" stroke="#5e9dc0" stroke-width="1.05" stroke-linejoin="round"/>
<polyline points="60.40,107.00 60.57,105.95 60.75,104.91 60.92,103.87 61.09,102.83 61.26,101.80 61.44,100.77 61.61,99.74 61.78,98.72 61.95,97.71 62.13,96.69 62.30,95.68 62.47,94.68 62.64,93.68 62.82,92.69 62.99,91.70 63.16,90.71 63.33,89.73 63.51,88.75 63.68,87.78 63.85,86.81 64.02,85.85 64.20,84.89 64.37,83.94 64.54,82.99 64.71,82.05 64.89,81.11 65.06,80.18 65.23,79.25 65.40,78.33 65.58,77.42 65.75,76.51 65.92,75.61 66.09,74.71 66.27,73.82 66.44,72.93 66.61,72.05 66.78,71.18 66.96,70.31 67.13,69.46 67.30,68.60 67.47,67.76 67.65,66.92 67.82,66.09 67.99,65.27 68.16,64.46 68.34,63.65 68.51,62.85 68.68,62.07 68.85,61.29 69.03,60.52 69.20,59.76 69.37,59.01 69.54,58.27 69.72,57.54 69.89,56.82 70.06,56.12 70.23,55.43 70.41,54.75 70.58,54.08 70.75,53.44 70.92,52.80 71.10,52.19 71.27,51.60 71.44,51.03 71.61,50.48 71.79,49.96 71.96,49.48 72.13,49.04 72.30,48.67 72.48,48.67 72.65,49.16 72.82,49.72 72.99,50.31 73.17,50.93 73.34,51.56 73.51,52.21 73.68,52.87 73.86,53.53 74.03,54.20 74.20,54.88 74.37,55.55 74.55,56.23 74.72,56.91 74.89,57.58 75.06,58.26 75.24,58.93 75.41,59.61 75.58,60.27 75.75,60.94 75.93,61.60 76.10,62.26 76.27,62.91 76.44,63.56 76.62,64.20 76.79,64.84 76.96,65.47 77.13,66.10 77.31,66.72 77.48,67.34 77.65,67.95 77.82,68.55 78.00,69.15 78.17,69.74 78.34,70.32 78.51,70.90 78.69,71.48 78.86,72.04 79.03,72.60 79.20,73.15 79.38,73.70 79.55,74.24 79.72,74.77 79.89,75.30 80.07,75.82 80.24,76.33 80.41,76.84 80.58,77.34 80.76,77.83 80.93,78.32 81.10,78.80 81.27,79.28 81.45,79.74 81.62,80.21 81.79,80.66 81.96,81.11 82.14,81.55 82.31,81.99 82.48,82.42 82.65,82.84 82.83,83.26 83.00,83.67 83.17,84.08 83.34,84.48 83.52,84.87 83.69,85.26 83.86,85.64 84.03,86.01 84.21,86.39 84.38,86.75 84.55,87.11 84.72,87.46 84.90,87.81 85.07,88.15 85.24,88.49 85.41,88.82 85.59,89.15 85.76,89.47 85.93,89.79 86.10,90.10 86.28,90.41 86.45,90.71 86.62,91.01 86.79,91.30 86.97,91.59 87.14,91.87 87.31,92.15 87.48,92.42 87.66,92.69 87.83,92.95 88.00,93.21 88.17,93.47 88.35,93.72 88.52,93.97 88.69,94.21 88.86,94.45 89.04,94.68 89.21,94.91 89.38,95.14 89.55,95.36 89.73,95.58 89.90,95.80 90.07,96.01 90.24,96.22 90.42,96.42 90.59,96.62 90.76,96.82 90.93,97.02 91.11,97.21 91.28,97.39 91.45,97.58 91.62,97.76 91.80,97.94 91.97,98.11 92.14,98.28 92.31,98.45 92.49,98.61 92.66,98.78 92.83,98.94 93.00,99.09 93.18,99.25 93.35,99.40 93.52,99.55 93.69,99.70 93.87,99.85 94.04,100.00 94.21,100.15 94.38,100.29 94.56,100.42 94.73,100.55 94.90,100.68 95.07,100.79 95.25,100.91 95.42,101.01 95.59,101.09 95.76,101.16 95.94,101.22 96.11,101.27 96.28,101.31 96.45,101.35 96.63,101.37 96.80,101.39 96.97,101.39 97.14,101.46 97.32,101.62 97.49,101.78 97.66,101.96 97.83,102.14 98.01,102.33 98.18,102.52 98.35,102.72 98.52,102.93 98.70,103.15 98.87,103.28 99.04,103.28 99.21,103.28 99.39,103.27 99.56,103.27 99.73,103.26 99.90,103.25 100.08,103.24 100.25,103.23 100.42,103.21 100.59,103.23 100.77,103.28 100.94,103.34 101.11,103.39 101.28,103.44 101.46,103.49 101.63,103.54 101.80,103.58 101.97,103.63 102.15,103.68 102.32,103.75 102.49,103.86 102.66,103.96 102.84,104.07 103.01,104.18 103.18,104.28 103.35,104.39 103.53,104.49 103.70,104.60 103.87,104.70 104.04,104.76 104.22,104.77 104.39,104.78 104.56,104.78 104.73,104.79 104.91,104.80 105.08,104.80 105.25,104.80 105.42,104.81 105.60,104.81 105.77,104.86 105.94,105.00 106.11,105.14 106.29,105.27 106.46,105.41 106.63,105.54 106.80,105.67 106.98,105.80 107.15,105.94 107.32,106.07 107.49,106.16 107.67,106.19 107.84,106.22 108.01,106.25 108.18,106.28 108.36,106.30 108.53,106.33 108.70,106.36 108.87,106.38 109.05,106.41 109.22,106.42 109.39,106.42 109.56,106.41 109.74,106.40 109.91,106.40 110.08,106.39 110.25,106.38 110.43,106.37 110.60,106.36 110.77,106.35 110.94,106.32 111.12,106.24 111.29,106.16 111.46,106.08 111.63,106.00 111.81,105.92 111.98,105.84 112.15,105.76 112.32,105.68 112.50,105.60 112.67,105.57 112.84,105.64 113.01,105.71 113.19,105.78 113.36,105.84 113.53,105.91 113.70,105.98 113.88,106.04 114.05,106.11 114.22,106.18 114.39,106.23 114.57,106.27 114.74,106.30 114.91,106.34 115.08,106.37 115.26,106.41 115.43,106.44 115.60,106.48 115.77,106.51 115.95,106.55 116.12,106.55 116.29,106.50 116.46,106.46 116.64,106.41 116.81,106.36 116.98,106.32 117.15,106.27 117.33,106.22 117.50,106.18 117.67,106.13 117.84,106.12 118.02,106.15 118.19,106.19 118.36,106.22 118.53,106.26 118.71,106.29 118.88,106.33 119.05,106.36 119.22,106.40 119.40,106.43 119.57,106.47 119.74,106.50 119.91,106.54 120.09,106.58 120.26,106.62 120.43,106.66 120.60,106.69 120.78,106.73 120.95,106.77 121.12,106.81 121.29,106.79 121.47,106.69 121.64,106.60 121.81,106.50 121.98,106.40 122.16,106.30 122.33,106.21 122.50,106.11 122.67,106.01 122.85,105.92 123.02,105.87 123.19,105.89 123.36,105.91 123.54,105.94 123.71,105.96 123.88,105.99 124.05,106.01 124.23,106.03 124.40,106.06 124.57,106.08 124.74,106.13 124.92,106.23 125.09,106.33 125.26,106.42 125.43,106.52 125.61,106.62 125.78,106.71 125.95,106.81 126.12,106.91 126.30,107.00 126.47,107.00 126.64,106.97 126.81,106.91 126.99,106.84 127.16,106.77 127.33,106.71 127.50,106.64 127.68,106.58 127.85,106.51 128.02,106.45 128.19,106.41 128.37,106.42 128.54,106.44 128.71,106.45 128.88,106.46 129.06,106.47 129.23,106.48 129.40,106.50 129.57,106.51 129.75,106.52 129.92,106.50 130.09,106.43 130.26,106.36 130.44,106.29 130.61,106.22 130.78,106.15 130.95,106.08 131.13,106.01 131.30,105.93 131.47,105.86 131.64,105.83 131.82,105.87 131.99,105.90 132.16,105.93 132.33,105.96 132.51,105.99 132.68,106.02 132.85,106.05 133.02,106.08 133.20,106.12 133.37,106.17 133.54,106.26 133.71,106.36 133.89,106.45 134.06,106.54 134.23,106.63 134.40,106.72 134.58,106.82 134.75,106.91 134.92,107.00 135.09,107.00 135.27,106.86 135.44,106.72 135.61,106.57 135.78,106.43 135.96,106.29 136.13,106.15 136.30,106.00 136.47,105.86 136.65,105.72 136.82,105.71 136.99,105.89 137.16,106.06 137.34,106.24 137.51,106.42 137.68,106.60 137.85,106.78 138.03,106.96 138.20,107.00 138.37,107.00 138.54,107.00 138.72,107.00 138.89,107.00 139.06,107.00 139.23,107.00 139.41,107.00 139.58,107.00 139.75,106.97 139.92,106.90 140.10,106.84 140.27,106.78 140.44,106.71 140.61,106.64 140.79,106.57 140.96,106.50 141.13,106.43 141.30,106.36 141.48,106.29 141.65,106.22 141.82,106.15 141.99,106.16 142.17,106.29 142.34,106.41 142.51,106.54 142.68,106.66 142.86,106.79 143.03,106.91 143.20,107.00 143.37,107.00 143.55,107.00 143.72,107.00 143.89,107.00 144.06,107.00 144.24,107.00 144.41,107.00 144.58,106.99 144.75,106.92 144.93,106.85 145.10,106.78 145.27,106.71 145.44,106.71 145.62,106.80 145.79,106.89 145.96,106.99 146.13,107.00 146.31,107.00 146.48,107.00 146.65,107.00 146.82,107.00 147.00,107.00 147.17,107.00 147.34,107.00 147.51,107.00 147.69,107.00 147.86,107.00 148.03,106.90 148.20,106.77 148.38,106.64 148.55,106.51 148.72,106.38 148.89,106.30 149.07,106.28 149.24,106.26 149.41,106.24 149.58,106.22 149.76,106.20 149.93,106.18 150.10,106.16 150.27,106.14 150.45,106.12 150.62,106.12 150.79,106.16 150.96,106.20 151.14,106.24 151.31,106.28 151.48,106.32 151.65,106.36 151.83,106.40 152.00,106.44 152.17,106.48 152.34,106.48 152.52,106.41 152.69,106.35 152.86,106.29 153.03,106.23 153.21,106.17 153.38,106.10 153.55,106.04 153.72,105.98 153.90,105.92" fill="none" stroke="#3d6983" stroke-width="1.25" stroke-linejoin="round"/>
<line x1="165.20" y1="39.20" x2="176.90" y2="39.20" stroke="#56788f" stroke-width="1.15"/>
<text transform="translate(181.30,42.60) scale(1.05,1)" font-size="9.5" text-anchor="start" font-weight="normal" fill="#1a1a1a">128</text>
<line x1="165.20" y1="51.45" x2="176.90" y2="51.45" stroke="#a9b9c4" stroke-width="1.15"/>
<text transform="translate(181.00,54.85) scale(1.05,1)" font-size="9.5" text-anchor="start" font-weight="normal" fill="#1a1a1a">32</text>
<line x1="165.20" y1="64.15" x2="176.90" y2="64.15" stroke="#7fb0ca" stroke-width="1.15"/>
<text transform="translate(181.00,67.55) scale(1.05,1)" font-size="9.5" text-anchor="start" font-weight="normal" fill="#1a1a1a">8</text>
<line x1="165.20" y1="76.60" x2="176.90" y2="76.60" stroke="#c6e1ea" stroke-width="1.15"/>
<text transform="translate(181.00,80.00) scale(1.05,1)" font-size="9.5" text-anchor="start" font-weight="normal" fill="#1a1a1a">2</text>
<line x1="165.20" y1="88.95" x2="176.90" y2="88.95" stroke="#8b9191" stroke-width="1.15"/>
<text transform="translate(181.30,92.35) scale(1.05,1)" font-size="9.5" text-anchor="start" font-weight="normal" fill="#1a1a1a">1</text>
<line x1="165.20" y1="102.45" x2="176.90" y2="102.45" stroke="#c45a76" stroke-width="1.15"/>
<text transform="translate(181.00,105.85) scale(1.05,1)" font-size="9.5" text-anchor="start" font-weight="normal" fill="#1a1a1a">0</text>
<text transform="translate(216.60,21.20)" font-size="15" text-anchor="start" font-weight="bold" fill="#000">B</text>
<line x1="247.20" y1="30.20" x2="247.20" y2="107.50" stroke="#262626" stroke-width="1.7"/>
<line x1="243.70" y1="106.90" x2="247.20" y2="106.90" stroke="#262626" stroke-width="1.1"/>
<text transform="translate(239.30,110.15) scale(1.05,1)" font-size="9.5" text-anchor="end" font-weight="normal" fill="#1a1a1a">0</text>
<line x1="243.70" y1="82.56" x2="247.20" y2="82.56" stroke="#262626" stroke-width="1.1"/>
<text transform="translate(239.30,85.81) scale(1.05,1)" font-size="9.5" text-anchor="end" font-weight="normal" fill="#1a1a1a">2</text>
<line x1="243.70" y1="58.22" x2="247.20" y2="58.22" stroke="#262626" stroke-width="1.1"/>
<text transform="translate(239.30,61.47) scale(1.05,1)" font-size="9.5" text-anchor="end" font-weight="normal" fill="#1a1a1a">4</text>
<line x1="243.70" y1="33.88" x2="247.20" y2="33.88" stroke="#262626" stroke-width="1.1"/>
<text transform="translate(239.30,37.13) scale(1.05,1)" font-size="9.5" text-anchor="end" font-weight="normal" fill="#1a1a1a">6</text>
<text transform="translate(225.60,68.50) rotate(-90) scale(0.725,1)" font-size="11.0" text-anchor="middle" font-weight="normal" fill="#1a1a1a" stroke="#1a1a1a" stroke-width="0.25" letter-spacing="0.3" word-spacing="0.8">Lag time (min)</text>
<rect x="253.50" y="43.53" width="8.50" height="63.37" fill="#cc0f34" stroke="#a50d2a" stroke-width="0.8"/>
<line x1="257.75" y1="106.90" x2="257.75" y2="111.00" stroke="#262626" stroke-width="1.15"/>
<text transform="translate(257.55,123.10) scale(1.05,1)" font-size="9.5" text-anchor="middle" font-weight="normal" fill="#1a1a1a">0</text>
<rect x="269.42" y="55.33" width="8.50" height="51.57" fill="#465668" stroke="#3a4654" stroke-width="0.8"/>
<line x1="273.67" y1="106.90" x2="273.67" y2="111.00" stroke="#262626" stroke-width="1.15"/>
<text transform="translate(273.47,123.10) scale(1.05,1)" font-size="9.5" text-anchor="middle" font-weight="normal" fill="#1a1a1a">1</text>
<rect x="285.34" y="60.32" width="8.50" height="46.58" fill="#95d2ee" stroke="#86bfdc" stroke-width="0.8"/>
<line x1="289.59" y1="58.46" x2="289.59" y2="59.92" stroke="#3a3a3a" stroke-width="1.0"/>
<line x1="286.79" y1="58.46" x2="292.39" y2="58.46" stroke="#3a3a3a" stroke-width="1.0"/>
<line x1="289.59" y1="106.90" x2="289.59" y2="111.00" stroke="#262626" stroke-width="1.15"/>
<text transform="translate(289.39,123.10) scale(1.05,1)" font-size="9.5" text-anchor="middle" font-weight="normal" fill="#1a1a1a">2</text>
<rect x="301.26" y="66.41" width="8.50" height="40.49" fill="#1ca3df" stroke="#1a8cc2" stroke-width="0.8"/>
<line x1="305.51" y1="64.06" x2="305.51" y2="66.01" stroke="#3a3a3a" stroke-width="1.0"/>
<line x1="302.71" y1="64.06" x2="308.31" y2="64.06" stroke="#3a3a3a" stroke-width="1.0"/>
<line x1="305.51" y1="106.90" x2="305.51" y2="111.00" stroke="#262626" stroke-width="1.15"/>
<text transform="translate(305.31,123.10) scale(1.05,1)" font-size="9.5" text-anchor="middle" font-weight="normal" fill="#1a1a1a">8</text>
<rect x="317.18" y="67.87" width="8.50" height="39.03" fill="#8aaac8" stroke="#7393b2" stroke-width="0.8"/>
<line x1="321.43" y1="106.90" x2="321.43" y2="111.00" stroke="#262626" stroke-width="1.15"/>
<text transform="translate(321.23,123.10) scale(1.05,1)" font-size="9.5" text-anchor="middle" font-weight="normal" fill="#1a1a1a">32</text>
<rect x="333.10" y="67.87" width="8.50" height="39.03" fill="#0f5286" stroke="#0b4170" stroke-width="0.8"/>
<line x1="337.35" y1="106.90" x2="337.35" y2="111.00" stroke="#262626" stroke-width="1.15"/>
<text transform="translate(337.15,123.10) scale(1.05,1)" font-size="9.5" text-anchor="middle" font-weight="normal" fill="#1a1a1a">128</text>
<line x1="243.70" y1="106.90" x2="348.70" y2="106.90" stroke="#262626" stroke-width="1.7"/>
<text transform="translate(298.00,139.70) scale(0.695,1)" font-size="11.2" text-anchor="middle" font-weight="normal" fill="#1a1a1a" stroke="#1a1a1a" stroke-width="0.25" letter-spacing="0.3" word-spacing="0.8">Andexanet alfa (nM)</text>
<text transform="translate(367.60,21.20)" font-size="15" text-anchor="start" font-weight="bold" fill="#000">C</text>
<line x1="410.00" y1="30.20" x2="410.00" y2="107.10" stroke="#262626" stroke-width="1.7"/>
<line x1="406.50" y1="106.50" x2="410.00" y2="106.50" stroke="#262626" stroke-width="1.1"/>
<text transform="translate(402.50,109.75) scale(1.05,1)" font-size="9.5" text-anchor="end" font-weight="normal" fill="#1a1a1a">0</text>
<line x1="406.50" y1="88.30" x2="410.00" y2="88.30" stroke="#262626" stroke-width="1.1"/>
<text transform="translate(402.50,91.55) scale(1.05,1)" font-size="9.5" text-anchor="end" font-weight="normal" fill="#1a1a1a">100</text>
<line x1="406.50" y1="70.10" x2="410.00" y2="70.10" stroke="#262626" stroke-width="1.1"/>
<text transform="translate(402.50,73.35) scale(1.05,1)" font-size="9.5" text-anchor="end" font-weight="normal" fill="#1a1a1a">200</text>
<line x1="406.50" y1="51.90" x2="410.00" y2="51.90" stroke="#262626" stroke-width="1.1"/>
<text transform="translate(402.50,55.15) scale(1.05,1)" font-size="9.5" text-anchor="end" font-weight="normal" fill="#1a1a1a">300</text>
<line x1="406.50" y1="33.70" x2="410.00" y2="33.70" stroke="#262626" stroke-width="1.1"/>
<text transform="translate(402.50,36.95) scale(1.05,1)" font-size="9.5" text-anchor="end" font-weight="normal" fill="#1a1a1a">400</text>
<text transform="translate(377.20,68.50) rotate(-90) scale(0.725,1)" font-size="11.0" text-anchor="middle" font-weight="normal" fill="#1a1a1a" stroke="#1a1a1a" stroke-width="0.25" letter-spacing="0.3" word-spacing="0.8">Thrombin peak (nM)</text>
<rect x="416.25" y="77.23" width="8.50" height="29.57" fill="#cc0f34" stroke="#a50d2a" stroke-width="0.8"/>
<line x1="420.50" y1="76.11" x2="420.50" y2="76.83" stroke="#3a3a3a" stroke-width="1.0"/>
<line x1="417.70" y1="76.11" x2="423.30" y2="76.11" stroke="#3a3a3a" stroke-width="1.0"/>
<line x1="420.50" y1="106.80" x2="420.50" y2="110.90" stroke="#262626" stroke-width="1.15"/>
<text transform="translate(420.30,123.00) scale(1.05,1)" font-size="9.5" text-anchor="middle" font-weight="normal" fill="#1a1a1a">0</text>
<rect x="432.25" y="67.41" width="8.50" height="39.39" fill="#465668" stroke="#3a4654" stroke-width="0.8"/>
<line x1="436.50" y1="66.10" x2="436.50" y2="67.01" stroke="#3a3a3a" stroke-width="1.0"/>
<line x1="433.70" y1="66.10" x2="439.30" y2="66.10" stroke="#3a3a3a" stroke-width="1.0"/>
<line x1="436.50" y1="106.80" x2="436.50" y2="110.90" stroke="#262626" stroke-width="1.15"/>
<text transform="translate(436.30,123.00) scale(1.05,1)" font-size="9.5" text-anchor="middle" font-weight="normal" fill="#1a1a1a">1</text>
<rect x="448.25" y="60.13" width="8.50" height="46.67" fill="#95d2ee" stroke="#86bfdc" stroke-width="0.8"/>
<line x1="452.50" y1="58.82" x2="452.50" y2="59.73" stroke="#3a3a3a" stroke-width="1.0"/>
<line x1="449.70" y1="58.82" x2="455.30" y2="58.82" stroke="#3a3a3a" stroke-width="1.0"/>
<line x1="452.50" y1="106.80" x2="452.50" y2="110.90" stroke="#262626" stroke-width="1.15"/>
<text transform="translate(452.30,123.00) scale(1.05,1)" font-size="9.5" text-anchor="middle" font-weight="normal" fill="#1a1a1a">2</text>
<rect x="464.25" y="45.93" width="8.50" height="60.87" fill="#1ca3df" stroke="#1a8cc2" stroke-width="0.8"/>
<line x1="468.50" y1="45.17" x2="468.50" y2="45.53" stroke="#3a3a3a" stroke-width="1.0"/>
<line x1="465.70" y1="45.17" x2="471.30" y2="45.17" stroke="#3a3a3a" stroke-width="1.0"/>
<line x1="468.50" y1="106.80" x2="468.50" y2="110.90" stroke="#262626" stroke-width="1.15"/>
<text transform="translate(468.30,123.00) scale(1.05,1)" font-size="9.5" text-anchor="middle" font-weight="normal" fill="#1a1a1a">8</text>
<rect x="480.25" y="45.38" width="8.50" height="61.42" fill="#8aaac8" stroke="#7393b2" stroke-width="0.8"/>
<line x1="484.50" y1="44.44" x2="484.50" y2="44.98" stroke="#3a3a3a" stroke-width="1.0"/>
<line x1="481.70" y1="44.44" x2="487.30" y2="44.44" stroke="#3a3a3a" stroke-width="1.0"/>
<line x1="484.50" y1="106.80" x2="484.50" y2="110.90" stroke="#262626" stroke-width="1.15"/>
<text transform="translate(484.30,123.00) scale(1.05,1)" font-size="9.5" text-anchor="middle" font-weight="normal" fill="#1a1a1a">32</text>
<rect x="496.25" y="47.39" width="8.50" height="59.41" fill="#0f5286" stroke="#0b4170" stroke-width="0.8"/>
<line x1="500.50" y1="45.71" x2="500.50" y2="46.99" stroke="#3a3a3a" stroke-width="1.0"/>
<line x1="497.70" y1="45.71" x2="503.30" y2="45.71" stroke="#3a3a3a" stroke-width="1.0"/>
<line x1="500.50" y1="106.80" x2="500.50" y2="110.90" stroke="#262626" stroke-width="1.15"/>
<text transform="translate(500.30,123.00) scale(1.05,1)" font-size="9.5" text-anchor="middle" font-weight="normal" fill="#1a1a1a">128</text>
<line x1="406.50" y1="106.80" x2="511.70" y2="106.80" stroke="#262626" stroke-width="1.7"/>
<text transform="translate(460.90,139.50) scale(0.695,1)" font-size="11.2" text-anchor="middle" font-weight="normal" fill="#1a1a1a" stroke="#1a1a1a" stroke-width="0.25" letter-spacing="0.3" word-spacing="0.8">Andexanet alfa (nM)</text>
<text transform="translate(109.60,174.70)" font-size="15" text-anchor="start" font-weight="bold" fill="#000">D</text>
<line x1="146.00" y1="188.00" x2="146.00" y2="265.50" stroke="#262626" stroke-width="1.7"/>
<line x1="142.50" y1="264.90" x2="146.00" y2="264.90" stroke="#262626" stroke-width="1.1"/>
<text transform="translate(138.50,268.15) scale(1.05,1)" font-size="9.5" text-anchor="end" font-weight="normal" fill="#1a1a1a">0</text>
<line x1="142.50" y1="240.20" x2="146.00" y2="240.20" stroke="#262626" stroke-width="1.1"/>
<text transform="translate(138.50,243.45) scale(1.05,1)" font-size="9.5" text-anchor="end" font-weight="normal" fill="#1a1a1a">5</text>
<line x1="142.50" y1="215.50" x2="146.00" y2="215.50" stroke="#262626" stroke-width="1.1"/>
<text transform="translate(138.50,218.75) scale(1.05,1)" font-size="9.5" text-anchor="end" font-weight="normal" fill="#1a1a1a">10</text>
<line x1="142.50" y1="190.80" x2="146.00" y2="190.80" stroke="#262626" stroke-width="1.1"/>
<text transform="translate(138.50,194.05) scale(1.05,1)" font-size="9.5" text-anchor="end" font-weight="normal" fill="#1a1a1a">15</text>
<text transform="translate(119.40,226.30) rotate(-90) scale(0.725,1)" font-size="11.0" text-anchor="middle" font-weight="normal" fill="#1a1a1a" stroke="#1a1a1a" stroke-width="0.25" letter-spacing="0.3" word-spacing="0.8">Time to peak (min)</text>
<rect x="152.40" y="212.34" width="8.50" height="52.46" fill="#cc0f34" stroke="#a50d2a" stroke-width="0.8"/>
<line x1="156.65" y1="209.82" x2="156.65" y2="211.94" stroke="#3a3a3a" stroke-width="1.0"/>
<line x1="153.85" y1="209.82" x2="159.45" y2="209.82" stroke="#3a3a3a" stroke-width="1.0"/>
<line x1="156.65" y1="264.80" x2="156.65" y2="268.90" stroke="#262626" stroke-width="1.15"/>
<text transform="translate(156.45,281.20) scale(1.05,1)" font-size="9.5" text-anchor="middle" font-weight="normal" fill="#1a1a1a">0</text>
<rect x="168.35" y="220.35" width="8.50" height="44.45" fill="#465668" stroke="#3a4654" stroke-width="0.8"/>
<line x1="172.60" y1="264.80" x2="172.60" y2="268.90" stroke="#262626" stroke-width="1.15"/>
<text transform="translate(172.40,281.20) scale(1.05,1)" font-size="9.5" text-anchor="middle" font-weight="normal" fill="#1a1a1a">1</text>
<rect x="184.30" y="227.11" width="8.50" height="37.69" fill="#95d2ee" stroke="#86bfdc" stroke-width="0.8"/>
<line x1="188.55" y1="226.07" x2="188.55" y2="226.71" stroke="#3a3a3a" stroke-width="1.0"/>
<line x1="185.75" y1="226.07" x2="191.35" y2="226.07" stroke="#3a3a3a" stroke-width="1.0"/>
<line x1="188.55" y1="264.80" x2="188.55" y2="268.90" stroke="#262626" stroke-width="1.15"/>
<text transform="translate(188.35,281.20) scale(1.05,1)" font-size="9.5" text-anchor="middle" font-weight="normal" fill="#1a1a1a">2</text>
<rect x="200.25" y="234.03" width="8.50" height="30.77" fill="#1ca3df" stroke="#1a8cc2" stroke-width="0.8"/>
<line x1="204.50" y1="233.14" x2="204.50" y2="233.63" stroke="#3a3a3a" stroke-width="1.0"/>
<line x1="201.70" y1="233.14" x2="207.30" y2="233.14" stroke="#3a3a3a" stroke-width="1.0"/>
<line x1="204.50" y1="264.80" x2="204.50" y2="268.90" stroke="#262626" stroke-width="1.15"/>
<text transform="translate(204.30,281.20) scale(1.05,1)" font-size="9.5" text-anchor="middle" font-weight="normal" fill="#1a1a1a">8</text>
<rect x="216.20" y="233.44" width="8.50" height="31.36" fill="#8aaac8" stroke="#7393b2" stroke-width="0.8"/>
<line x1="220.45" y1="232.49" x2="220.45" y2="233.04" stroke="#3a3a3a" stroke-width="1.0"/>
<line x1="217.65" y1="232.49" x2="223.25" y2="232.49" stroke="#3a3a3a" stroke-width="1.0"/>
<line x1="220.45" y1="264.80" x2="220.45" y2="268.90" stroke="#262626" stroke-width="1.15"/>
<text transform="translate(220.25,281.20) scale(1.05,1)" font-size="9.5" text-anchor="middle" font-weight="normal" fill="#1a1a1a">32</text>
<rect x="232.15" y="234.42" width="8.50" height="30.38" fill="#0f5286" stroke="#0b4170" stroke-width="0.8"/>
<line x1="236.40" y1="233.38" x2="236.40" y2="234.02" stroke="#3a3a3a" stroke-width="1.0"/>
<line x1="233.60" y1="233.38" x2="239.20" y2="233.38" stroke="#3a3a3a" stroke-width="1.0"/>
<line x1="236.40" y1="264.80" x2="236.40" y2="268.90" stroke="#262626" stroke-width="1.15"/>
<text transform="translate(236.20,281.20) scale(1.05,1)" font-size="9.5" text-anchor="middle" font-weight="normal" fill="#1a1a1a">128</text>
<line x1="142.50" y1="264.80" x2="247.50" y2="264.80" stroke="#262626" stroke-width="1.7"/>
<text transform="translate(196.50,297.60) scale(0.695,1)" font-size="11.2" text-anchor="middle" font-weight="normal" fill="#1a1a1a" stroke="#1a1a1a" stroke-width="0.25" letter-spacing="0.3" word-spacing="0.8">Andexanet alfa (nM)</text>
<text transform="translate(267.20,174.60)" font-size="15" text-anchor="start" font-weight="bold" fill="#000">E</text>
<line x1="309.00" y1="188.00" x2="309.00" y2="265.60" stroke="#262626" stroke-width="1.7"/>
<line x1="305.50" y1="265.00" x2="309.00" y2="265.00" stroke="#262626" stroke-width="1.1"/>
<text transform="translate(301.30,268.25) scale(1.05,1)" font-size="9.5" text-anchor="end" font-weight="normal" fill="#1a1a1a">0</text>
<line x1="305.50" y1="240.20" x2="309.00" y2="240.20" stroke="#262626" stroke-width="1.1"/>
<text transform="translate(301.30,243.45) scale(1.05,1)" font-size="9.5" text-anchor="end" font-weight="normal" fill="#1a1a1a">50</text>
<line x1="305.50" y1="215.40" x2="309.00" y2="215.40" stroke="#262626" stroke-width="1.1"/>
<text transform="translate(301.30,218.65) scale(1.05,1)" font-size="9.5" text-anchor="end" font-weight="normal" fill="#1a1a1a">100</text>
<line x1="305.50" y1="190.60" x2="309.00" y2="190.60" stroke="#262626" stroke-width="1.1"/>
<text transform="translate(301.30,193.85) scale(1.05,1)" font-size="9.5" text-anchor="end" font-weight="normal" fill="#1a1a1a">150</text>
<text transform="translate(276.20,226.30) rotate(-90) scale(0.725,1)" font-size="11.0" text-anchor="middle" font-weight="normal" fill="#1a1a1a" stroke="#1a1a1a" stroke-width="0.25" letter-spacing="0.3" word-spacing="0.8">Velocity index (nM/min)</text>
<rect x="315.00" y="251.31" width="8.60" height="13.49" fill="#cc0f34" stroke="#a50d2a" stroke-width="0.8"/>
<line x1="319.30" y1="249.38" x2="319.30" y2="250.91" stroke="#3a3a3a" stroke-width="1.0"/>
<line x1="316.50" y1="249.38" x2="322.10" y2="249.38" stroke="#3a3a3a" stroke-width="1.0"/>
<line x1="319.30" y1="264.80" x2="319.30" y2="268.90" stroke="#262626" stroke-width="1.15"/>
<text transform="translate(319.10,281.00) scale(1.05,1)" font-size="9.5" text-anchor="middle" font-weight="normal" fill="#1a1a1a">0</text>
<rect x="330.93" y="244.07" width="8.60" height="20.73" fill="#465668" stroke="#3a4654" stroke-width="0.8"/>
<line x1="335.23" y1="243.18" x2="335.23" y2="243.67" stroke="#3a3a3a" stroke-width="1.0"/>
<line x1="332.43" y1="243.18" x2="338.03" y2="243.18" stroke="#3a3a3a" stroke-width="1.0"/>
<line x1="335.23" y1="264.80" x2="335.23" y2="268.90" stroke="#262626" stroke-width="1.15"/>
<text transform="translate(335.03,281.00) scale(1.05,1)" font-size="9.5" text-anchor="middle" font-weight="normal" fill="#1a1a1a">1</text>
<rect x="346.86" y="233.51" width="8.60" height="31.29" fill="#95d2ee" stroke="#86bfdc" stroke-width="0.8"/>
<line x1="351.16" y1="232.51" x2="351.16" y2="233.11" stroke="#3a3a3a" stroke-width="1.0"/>
<line x1="348.36" y1="232.51" x2="353.96" y2="232.51" stroke="#3a3a3a" stroke-width="1.0"/>
<line x1="351.16" y1="264.80" x2="351.16" y2="268.90" stroke="#262626" stroke-width="1.15"/>
<text transform="translate(350.96,281.00) scale(1.05,1)" font-size="9.5" text-anchor="middle" font-weight="normal" fill="#1a1a1a">2</text>
<rect x="362.79" y="210.49" width="8.60" height="54.31" fill="#1ca3df" stroke="#1a8cc2" stroke-width="0.8"/>
<line x1="367.09" y1="209.70" x2="367.09" y2="210.09" stroke="#3a3a3a" stroke-width="1.0"/>
<line x1="364.29" y1="209.70" x2="369.89" y2="209.70" stroke="#3a3a3a" stroke-width="1.0"/>
<line x1="367.09" y1="264.80" x2="367.09" y2="268.90" stroke="#262626" stroke-width="1.15"/>
<text transform="translate(366.89,281.00) scale(1.05,1)" font-size="9.5" text-anchor="middle" font-weight="normal" fill="#1a1a1a">8</text>
<rect x="378.72" y="214.11" width="8.60" height="50.69" fill="#8aaac8" stroke="#7393b2" stroke-width="0.8"/>
<line x1="383.02" y1="210.09" x2="383.02" y2="213.71" stroke="#3a3a3a" stroke-width="1.0"/>
<line x1="380.22" y1="210.09" x2="385.82" y2="210.09" stroke="#3a3a3a" stroke-width="1.0"/>
<line x1="383.02" y1="264.80" x2="383.02" y2="268.90" stroke="#262626" stroke-width="1.15"/>
<text transform="translate(382.82,281.00) scale(1.05,1)" font-size="9.5" text-anchor="middle" font-weight="normal" fill="#1a1a1a">32</text>
<rect x="394.65" y="211.68" width="8.60" height="53.12" fill="#0f5286" stroke="#0b4170" stroke-width="0.8"/>
<line x1="398.95" y1="205.18" x2="398.95" y2="211.28" stroke="#3a3a3a" stroke-width="1.0"/>
<line x1="396.15" y1="205.18" x2="401.75" y2="205.18" stroke="#3a3a3a" stroke-width="1.0"/>
<line x1="398.95" y1="264.80" x2="398.95" y2="268.90" stroke="#262626" stroke-width="1.15"/>
<text transform="translate(398.75,281.00) scale(1.05,1)" font-size="9.5" text-anchor="middle" font-weight="normal" fill="#1a1a1a">128</text>
<line x1="305.50" y1="264.80" x2="410.30" y2="264.80" stroke="#262626" stroke-width="1.7"/>
<text transform="translate(360.10,297.60) scale(0.695,1)" font-size="11.2" text-anchor="middle" font-weight="normal" fill="#1a1a1a" stroke="#1a1a1a" stroke-width="0.25" letter-spacing="0.3" word-spacing="0.8">Andexanet alfa (nM)</text>
<line x1="318.80" y1="221.70" x2="336.40" y2="221.70" stroke="#262626" stroke-width="1.25"/>
<line x1="319.40" y1="221.10" x2="319.40" y2="228.40" stroke="#262626" stroke-width="1.25"/>
<line x1="335.80" y1="221.10" x2="335.80" y2="228.40" stroke="#262626" stroke-width="1.25"/>
<text transform="translate(327.60,219.90)" font-size="9.5" text-anchor="middle" font-weight="normal" fill="#1a1a1a">*</text>
</svg>
<div id="frame"></div>
</div>
</body></html>
